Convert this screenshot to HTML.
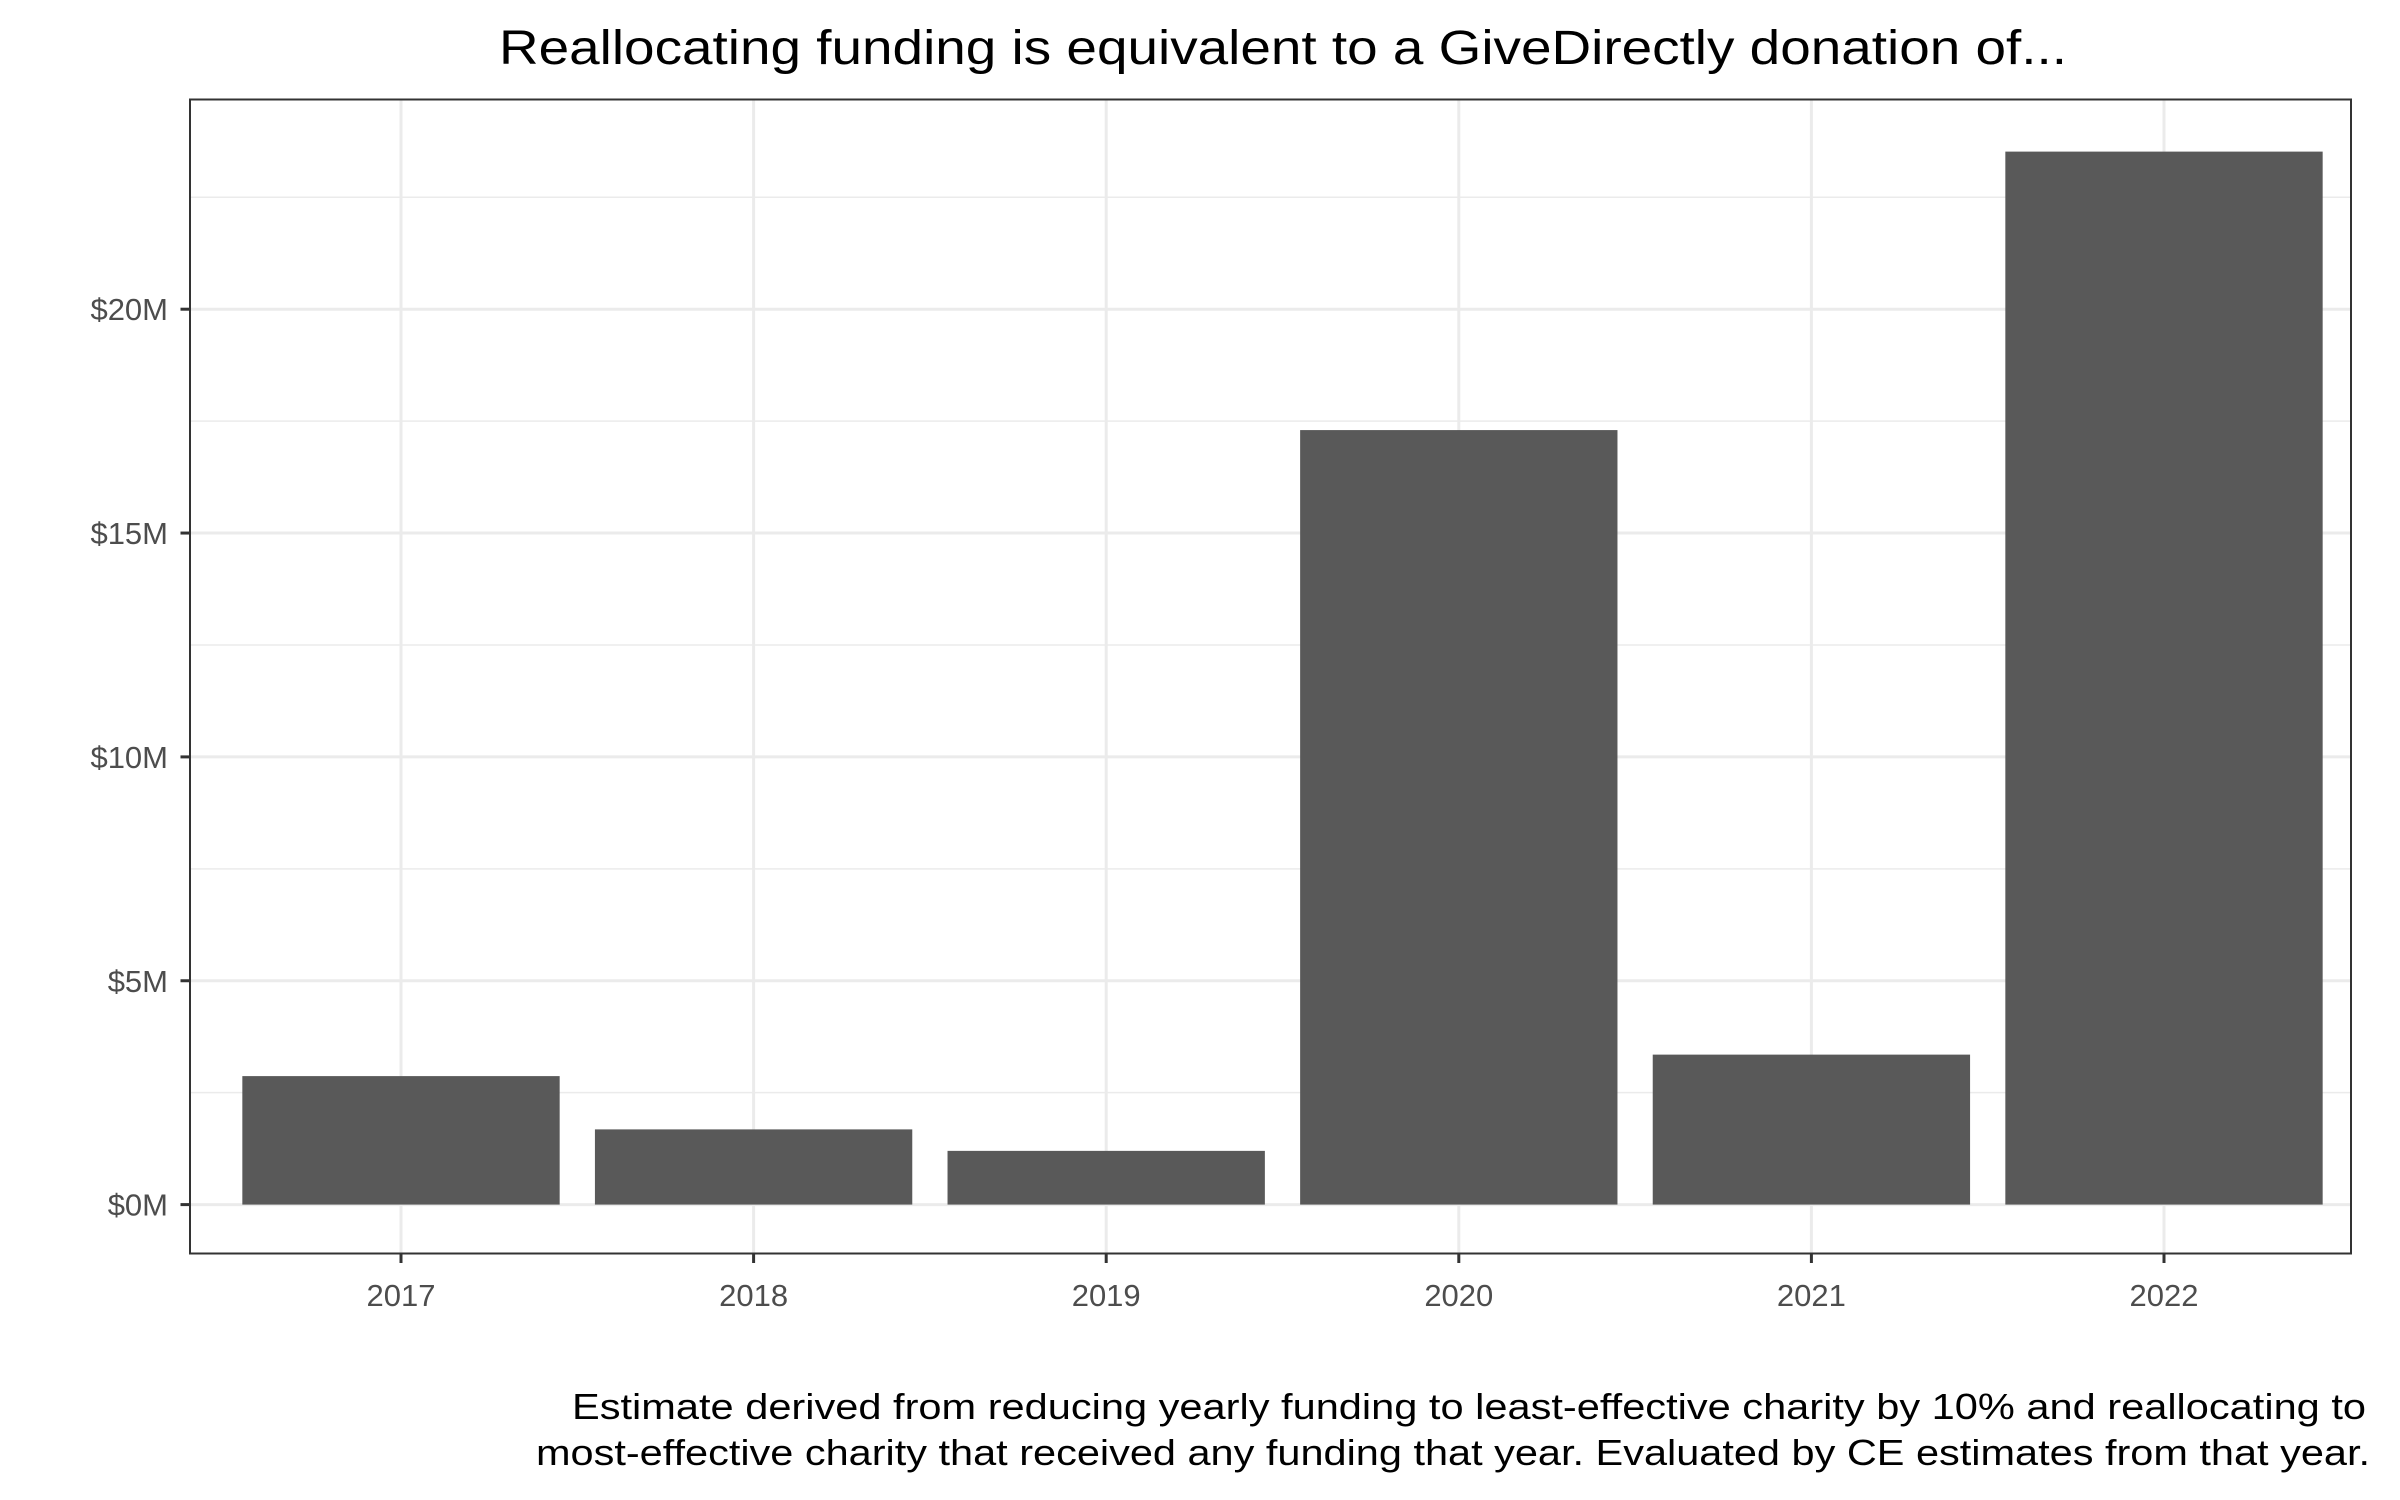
<!DOCTYPE html>
<html><head><meta charset="utf-8"><style>html,body{margin:0;padding:0;background:#fff}svg{display:block}</style></head>
<body>
<svg id="chart" width="2400" height="1500" viewBox="0 0 2400 1500" xmlns="http://www.w3.org/2000/svg" font-family="Liberation Sans, sans-serif">
<rect width="2400" height="1500" fill="#fff"/>
<text x="1283" y="64" font-size="48" text-anchor="middle" textLength="1568" lengthAdjust="spacingAndGlyphs" fill="#000">Reallocating funding is equivalent to a GiveDirectly donation of...</text>
<g id="grid"></g>
<g id="bars"></g>
<rect x="190" y="99.5" width="2161" height="1154" fill="none" stroke="#333" stroke-width="2"/>
<g id="yaxis"></g>
<g id="xaxis"></g>
<text x="2366" y="1419" font-size="36" text-anchor="end" textLength="1794" lengthAdjust="spacingAndGlyphs" fill="#000">Estimate derived from reducing yearly funding to least-effective charity by 10% and reallocating to</text>
<text x="2370" y="1465" font-size="36" text-anchor="end" textLength="1834" lengthAdjust="spacingAndGlyphs" fill="#000">most-effective charity that received any funding that year. Evaluated by CE estimates from that year.</text>
</svg>
<script>
const categories = ["2017","2018","2019","2020","2021","2022"];
const values = [2.87, 1.68, 1.20, 17.3, 3.35, 23.52];
const yTicks = [0, 5, 10, 15, 20];
const yTickLabels = ["$0M","$5M","$10M","$15M","$20M"];
const yMinor = [2.5, 7.5, 12.5, 17.5, 22.5];

const NS = "http://www.w3.org/2000/svg";
const panel = {x0:190, x1:2351, y0:99.5, y1:1253.5};
const y0px = 1204.6, pxPerM = 44.77;
function yScale(v){ return y0px - v*pxPerM; }
const step = 352.6, firstX = 401;
function xScale(i){ return firstX + step*i; }
function mk(tag, attrs, parent){ const e=document.createElementNS(NS,tag); for(const k in attrs) e.setAttribute(k,attrs[k]); parent.appendChild(e); return e; }

const grid = document.getElementById('grid');
yMinor.forEach(v=>{ const l=mk('line',{x1:panel.x0,x2:panel.x1,y1:yScale(v),y2:yScale(v),stroke:'#ebebeb','stroke-width':1.5},grid);

 });
yTicks.forEach(v=>{ const l=mk('line',{x1:panel.x0,x2:panel.x1,y1:yScale(v),y2:yScale(v),stroke:'#ebebeb','stroke-width':3},grid);

 });
categories.forEach((c,i)=>{ const l=mk('line',{x1:xScale(i),x2:xScale(i),y1:panel.y0,y2:panel.y1,stroke:'#ebebeb','stroke-width':3},grid);

 });

const bars = document.getElementById('bars');
const bw = step*0.9;
categories.forEach((c,i)=>{ const r=mk('rect',{x:xScale(i)-bw/2,y:yScale(values[i]),width:bw,height:yScale(0)-yScale(values[i]),fill:'#595959'},bars);

 });

const ya = document.getElementById('yaxis');
yTicks.forEach((v,i)=>{ const t=mk('line',{x1:180.5,x2:190,y1:yScale(v),y2:yScale(v),stroke:'#333','stroke-width':3},ya);


const tx=mk('text',{x:168,y:yScale(v)+11,'font-size':31,'text-anchor':'end',fill:'#4d4d4d'},ya);
tx.textContent=yTickLabels[i];

 });

const xa = document.getElementById('xaxis');
categories.forEach((c,i)=>{ const t=mk('line',{x1:xScale(i),x2:xScale(i),y1:1253.5,y2:1263,stroke:'#333','stroke-width':3},xa);


const tx=mk('text',{x:xScale(i),y:1306,'font-size':31,'text-anchor':'middle',fill:'#4d4d4d'},xa);
tx.textContent=c;

 });
</script>
</body></html>
